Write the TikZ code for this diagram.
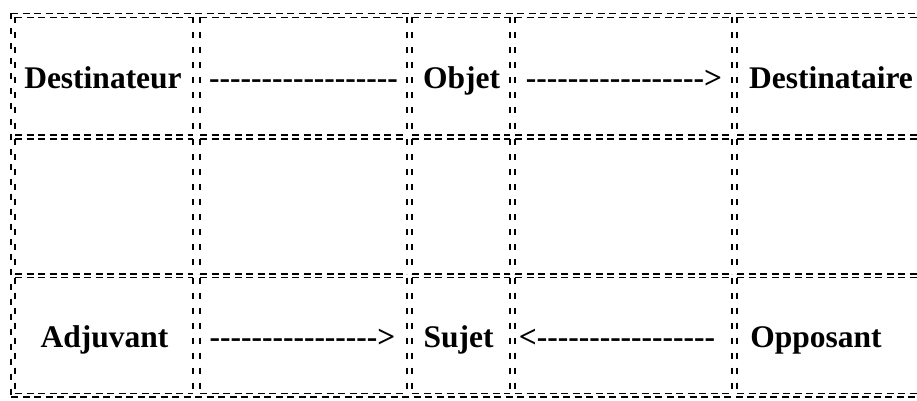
\documentclass[tikz,border=0pt]{standalone}
\usepackage{fontspec}
\setmainfont{Liberation Serif}
\ExplSyntaxOn
\NewDocumentCommand\hyph{m}{\prg_replicate:nn{#1}{-\kern0pt}}
\ExplSyntaxOff
\tikzset{
  hd/.style={line width=1.6pt, dash pattern=on 7pt off 4.5pt},
  vd/.style={line width=1.6pt, dash pattern=on 6pt off 9pt},
  lbl/.style={anchor=base, inner sep=0pt, font=\fontsize{31.5}{36}\selectfont\bfseries},
}
\newcommand\cellbox[4]{%
  \draw[hd] (#1,#2) -- (#3,#2);
  \draw[hd] (#1,#4) -- (#3,#4);
  \draw[vd] (#1,#2) -- (#1,#4);
  \draw[vd] (#3,#2) -- (#3,#4);
}
\begin{document}
\begin{tikzpicture}[x=1pt,y=-1pt]
\useasboundingbox (0,0) rectangle (917,401);
\clip (0,0) rectangle (917,401);
% outer table border
\cellbox{11}{13.5}{930}{397}
% cells
\foreach \xa/\xb in {15/193,200/407,412/510,515/732,737/930}{
  \foreach \ya/\yb in {17.5/135,139/274,277.5/393.5}{
    \cellbox{\xa}{\ya}{\xb}{\yb}
  }
}
% texts
\node[lbl] (dest) at (103,89) {Destinateur};
\node[lbl] (a1)   at (303.5,89) {\hyph{18}};
\node[lbl] (obj)  at (461.5,89) {Objet};
\node[lbl] (a2)   at (624,89) {\hyph{17}>};
\node[lbl] (dire) at (831,89) {Destinataire};
\node[lbl] (adj)  at (104.5,347) {Adjuvant};
\node[lbl] (a3)   at (302.5,347) {\hyph{16}>};
\node[lbl] (suj)  at (458.5,347) {Sujet};
\node[lbl] (a4)   at (617,347) {<\hyph{17}};
\node[lbl] (opp)  at (816,347) {Opposant};
\end{tikzpicture}
\end{document}
